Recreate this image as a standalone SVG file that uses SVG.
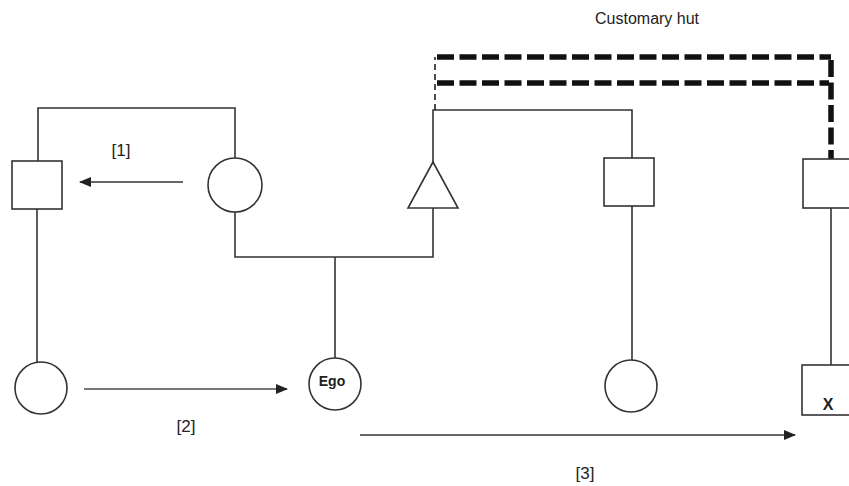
<svg xmlns="http://www.w3.org/2000/svg" width="849" height="486" viewBox="0 0 849 486">
<defs>
<style>
.node{fill:#fff;stroke:#333;stroke-width:1.6}
.ln{fill:none;stroke:#333;stroke-width:1.6}
.thin-dash{fill:none;stroke:#222;stroke-width:1.6;stroke-dasharray:6 4}
.thick-dash{fill:none;stroke:#111;stroke-width:5.5;stroke-dasharray:17 5.5}
.arr{fill:none;stroke:#333;stroke-width:1.6}
.arr-light{fill:none;stroke:#777;stroke-width:1.8}
.lbl{font-family:"Liberation Sans",Arial,sans-serif;font-size:17px;fill:#222;text-anchor:middle}
.bold{font-family:"Liberation Sans Narrow","Liberation Sans",Arial,sans-serif;font-weight:bold;fill:#222;text-anchor:middle}
</style>
<marker id="ah" viewBox="0 0 12 10" refX="11" refY="5" markerWidth="12" markerHeight="10" markerUnits="userSpaceOnUse" orient="auto">
<path d="M0,0 L12,5 L0,10 z" fill="#222"/>
</marker>
</defs>
<rect width="849" height="486" fill="#fff"/>

<g id="connectors">
<path class="ln" d="M38,161 V108 H235 V158"/>
<path class="ln" d="M37,209 V362"/>
<path class="ln" d="M235,212 V257 H433 V208"/>
<path class="ln" d="M335,257 V358"/>
<path class="ln" d="M433,162 V110 H632 V158"/>
<path class="ln" d="M632,206 V360"/>
<path class="ln" d="M831,208 V365"/>
<path class="thin-dash" d="M435,110 V57"/>
<path class="thick-dash" d="M437,57 H831"/>
<path class="thick-dash" d="M437,83 H829"/>
<path class="thick-dash" d="M831,60 V159"/>
<path class="arr" d="M183,182 H80" marker-end="url(#ah)"/>
<path class="arr-light" d="M84,389 H287" marker-end="url(#ah)"/>
<path class="arr" d="M360,435 H795" marker-end="url(#ah)"/>
</g>

<g id="n-square-left"><rect class="node" x="12" y="161" width="50" height="48"/></g>
<g id="n-circle-top"><circle class="node" cx="235" cy="185" r="27"/></g>
<g id="n-triangle"><polygon class="node" points="433,162 408,208 458,208"/></g>
<g id="n-square-mid"><rect class="node" x="604" y="158" width="50" height="48"/></g>
<g id="n-square-right"><rect class="node" x="803" y="159" width="54" height="49"/></g>
<g id="n-circle-left"><circle class="node" cx="41" cy="388" r="26"/></g>
<g id="n-ego"><circle class="node" cx="335" cy="384" r="26"/><text class="bold" x="332" y="386" font-size="14">Ego</text></g>
<g id="n-circle-right"><circle class="node" cx="631" cy="386" r="26"/></g>
<g id="n-x"><rect class="node" x="802" y="365" width="54" height="50"/><text class="bold" x="828" y="410" font-size="16">X</text></g>

<g id="labels">
<text class="lbl" x="121" y="156">[1]</text>
<text class="lbl" x="186" y="432">[2]</text>
<text class="lbl" x="585" y="479">[3]</text>
<text x="595" y="24" font-family="Liberation Sans,Arial,sans-serif" font-size="16" fill="#222">Customary hut</text>
</g>
</svg>
